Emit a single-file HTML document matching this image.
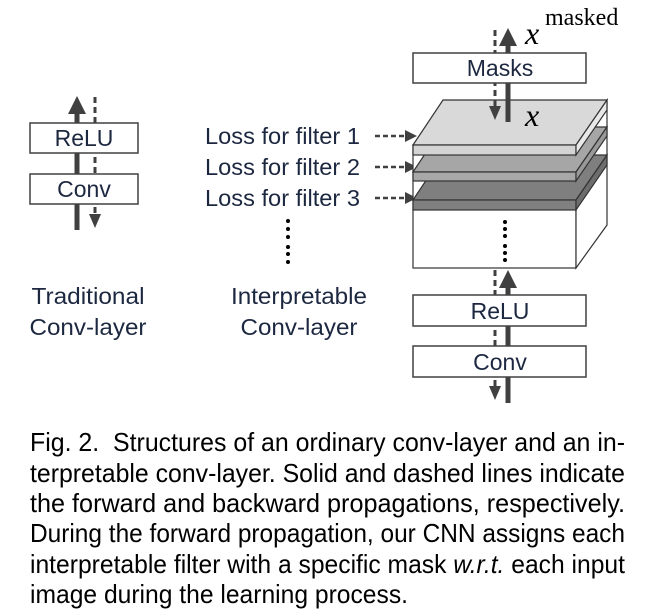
<!DOCTYPE html>
<html><head><meta charset="utf-8"><style>
html,body{margin:0;padding:0;background:#fff;}
svg{display:block;}
.l{font-family:"Liberation Sans",sans-serif;font-size:23px;fill:#1c2740;}
.c{font-family:"Liberation Sans",sans-serif;font-size:26px;fill:#000;}
</style></head><body>
<svg width="651" height="615" viewBox="0 0 651 615" xmlns="http://www.w3.org/2000/svg">
<g stroke="#404040" fill="none">
<line x1="77" y1="230" x2="77" y2="110" stroke-width="5"/>
<path d="M68,114 L77,96 L86,114 z" fill="#404040" stroke="none"/>
<line x1="95" y1="97" x2="95" y2="215" stroke-width="3" stroke-dasharray="6,4"/>
<path d="M89,214 L95,228 L101,214 z" fill="#404040" stroke="none"/>
</g>
<rect x="30" y="123" width="108" height="30" fill="#fff" stroke="#404040" stroke-width="1.5"/>
<rect x="30" y="174" width="108" height="30" fill="#fff" stroke="#404040" stroke-width="1.5"/>
<text class="l" x="84" y="146" text-anchor="middle">ReLU</text>
<text class="l" x="84" y="197" text-anchor="middle">Conv</text>
<text class="l" x="88" y="304" text-anchor="middle" textLength="113" lengthAdjust="spacingAndGlyphs">Traditional</text>
<text class="l" x="88" y="335" text-anchor="middle" textLength="117" lengthAdjust="spacingAndGlyphs">Conv-layer</text>

<text class="l" x="205" y="144" textLength="155" lengthAdjust="spacingAndGlyphs">Loss for filter 1</text>
<text class="l" x="205" y="175" textLength="155" lengthAdjust="spacingAndGlyphs">Loss for filter 2</text>
<text class="l" x="205" y="206" textLength="155" lengthAdjust="spacingAndGlyphs">Loss for filter 3</text>
<g stroke="#404040" stroke-width="2.5" stroke-dasharray="5,3">
<line x1="375" y1="136" x2="408" y2="136"/>
<line x1="375" y1="167" x2="408" y2="167"/>
<line x1="375" y1="198" x2="408" y2="198"/>
</g>
<g fill="#404040">
<path d="M405,130 L417,136 L405,142 z"/>
<path d="M405,161 L417,167 L405,173 z"/>
<path d="M405,192 L417,198 L405,204 z"/>
</g>
<g fill="#000">
<circle cx="288" cy="221" r="2"/><circle cx="288" cy="229" r="2"/><circle cx="288" cy="237" r="2"/>
<circle cx="288" cy="247" r="2"/><circle cx="288" cy="254" r="2"/><circle cx="288" cy="262" r="2"/>
</g>
<text class="l" x="299" y="304" text-anchor="middle" textLength="136" lengthAdjust="spacingAndGlyphs">Interpretable</text>
<text class="l" x="299" y="335" text-anchor="middle" textLength="117" lengthAdjust="spacingAndGlyphs">Conv-layer</text>

<g stroke="#333" stroke-width="1.2">
<rect x="413" y="145" width="163" height="123" fill="#fff"/>
<path d="M576,145 L607,100 L607,225 L576,268 z" fill="#fff"/>
<path d="M413,200 L443,155 L607,155 L576,200 z" fill="#7f7f7f"/>
<rect x="413" y="200" width="163" height="10" fill="#808080"/>
<path d="M576,200 L607,155 L607,165 L576,210 z" fill="#6d6d6d"/>
<path d="M413,172 L443,127 L607,127 L576,172 z" fill="#a6a6a6"/>
<rect x="413" y="172" width="163" height="9" fill="#a8a8a8"/>
<path d="M576,172 L607,127 L607,136 L576,181 z" fill="#999"/>
<path d="M413,145 L443,100 L607,100 L576,145 z" fill="#d9d9d9"/>
<rect x="413" y="145" width="163" height="10" fill="#d4d4d4"/>
<path d="M576,145 L607,100 L607,110 L576,155 z" fill="#e8e8e8"/>
</g>
<g fill="#000">
<circle cx="505" cy="222" r="2"/><circle cx="505" cy="229" r="2"/><circle cx="505" cy="236" r="2"/>
<circle cx="505" cy="246" r="2"/><circle cx="505" cy="253" r="2"/><circle cx="505" cy="260" r="2"/>
</g>

<line x1="508" y1="122" x2="508" y2="44" stroke="#404040" stroke-width="5"/>
<path d="M499,46 L508,28 L517,46 z" fill="#404040"/>
<line x1="495" y1="30" x2="495" y2="106" stroke="#404040" stroke-width="3" stroke-dasharray="6,4"/>
<path d="M489,106 L495,120 L501,106 z" fill="#404040"/>
<rect x="413" y="53" width="173" height="30" fill="#fff" stroke="#404040" stroke-width="1.5"/>
<text class="l" x="500" y="76" text-anchor="middle">Masks</text>
<text x="525" y="44" font-family="Liberation Serif,serif" font-style="italic" font-size="32" fill="#000">x</text>
<text x="545" y="25" font-family="Liberation Serif,serif" font-size="24" fill="#000">masked</text>
<text x="525" y="126" font-family="Liberation Serif,serif" font-style="italic" font-size="32" fill="#000">x</text>

<line x1="508" y1="403" x2="508" y2="285" stroke="#404040" stroke-width="5"/>
<path d="M499,288 L508,270 L517,288 z" fill="#404040"/>
<line x1="495" y1="270" x2="495" y2="386" stroke="#404040" stroke-width="3" stroke-dasharray="6,4"/>
<path d="M489,386 L495,400 L501,386 z" fill="#404040"/>
<rect x="413" y="295" width="173" height="31" fill="#fff" stroke="#404040" stroke-width="1.5"/>
<rect x="413" y="346" width="173" height="31" fill="#fff" stroke="#404040" stroke-width="1.5"/>
<text class="l" x="500" y="319" text-anchor="middle">ReLU</text>
<text class="l" x="500" y="370" text-anchor="middle">Conv</text>

<text class="c" x="30" y="451" textLength="595" lengthAdjust="spacingAndGlyphs">Fig. 2.&#160; Structures of an ordinary conv-layer and an in-</text>
<text class="c" x="30" y="482" textLength="595" lengthAdjust="spacingAndGlyphs">terpretable conv-layer. Solid and dashed lines indicate</text>
<text class="c" x="30" y="512" textLength="595" lengthAdjust="spacingAndGlyphs">the forward and backward propagations, respectively.</text>
<text class="c" x="30" y="542" textLength="595" lengthAdjust="spacingAndGlyphs">During the forward propagation, our CNN assigns each</text>
<text class="c" x="30" y="573" textLength="595" lengthAdjust="spacingAndGlyphs">interpretable filter with a specific mask <tspan font-style="italic">w.r.t.</tspan> each input</text>
<text class="c" x="30" y="603" textLength="378" lengthAdjust="spacingAndGlyphs">image during the learning process.</text>
</svg>
</body></html>
